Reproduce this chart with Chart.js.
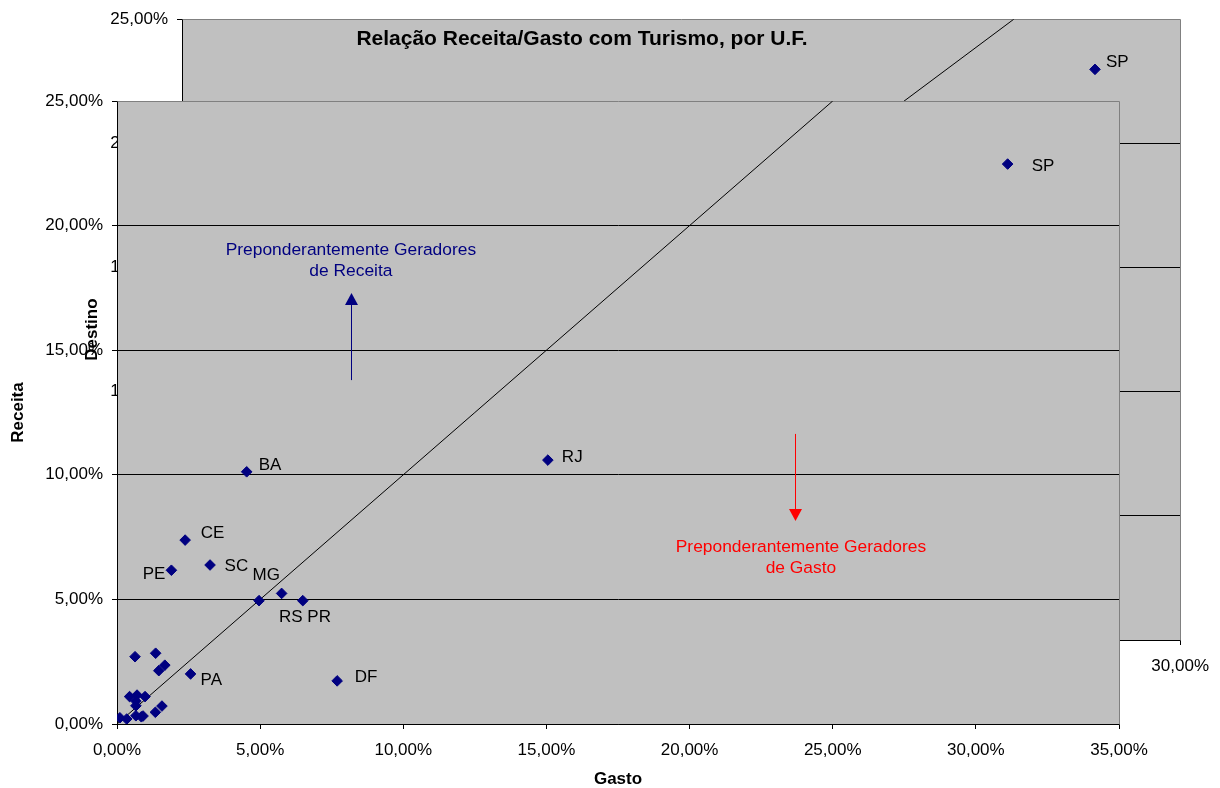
<!DOCTYPE html>
<html><head><meta charset="utf-8">
<script src="https://cdn.jsdelivr.net/npm/chart.js@4"></script>
<style>
html,body{margin:0;padding:0;background:#fff;}
#wrap{position:relative;width:1220px;height:788px;overflow:hidden;}
canvas{position:absolute;left:0;top:0;}
</style></head><body>
<div id="wrap">
<canvas id="back" width="1220" height="788"></canvas>
<canvas id="front" width="1220" height="788"></canvas>
</div>
<script>
// ---- data (front chart) ----
const ufNames = ['SP','RJ','BA','CE','SC','PE','MG','RS','PR','PA','DF',
  '','','','','','','','','','','','','','','',''];
const gasto = [31.11,15.05,4.53,2.38,3.25,1.90,5.75,4.96,6.49,2.57,7.69,
  0.10,0.34,0.63,1.35,1.67,1.46,0.44,0.70,0.98,0.66,1.57,1.34,0.66,0.85,0.66,0.91];
const receita = [22.47,10.59,10.12,7.38,6.38,6.17,5.24,4.95,4.95,2.01,1.73,
  0.25,0.20,2.70,2.84,2.36,2.14,1.10,1.16,1.10,0.73,0.72,0.47,0.33,0.29,0.92,0.32];
// ---- data (back chart, only visible part) ----
const backNames = ['SP'];
const backGasto = [27.44];
const backReceita = [22.98];
// reference line Receita = Gasto
const refLineX = [0, 25];
const refLineY = [0, 25];
// ticks
const xTicksFront = [0,5,10,15,20,25,30,35];
const xTicksBack = [0,5,10,15,20,25,30];
const yTicks = [0,5,10,15,20,25];
const fmt = v => v.toFixed(2).replace('.', ',') + '%';

const FONT = "'Liberation Sans', Arial, sans-serif";
const NAVY = '#000080';
Chart.defaults.font.family = FONT;
Chart.defaults.color = '#000';

const plotFrame = {
  id: 'plotFrame',
  beforeDraw(chart) {
    const a = chart.chartArea, c = chart.ctx;
    c.save(); c.fillStyle = '#c0c0c0';
    c.fillRect(a.left, a.top, a.right - a.left, a.bottom - a.top);
    c.restore();
  },
  beforeDatasetsDraw(chart) {
    const a = chart.chartArea, c = chart.ctx;
    c.save(); c.strokeStyle = '#808080'; c.lineWidth = 1;
    c.beginPath();
    c.moveTo(Math.round(a.left) + 0.5, Math.round(a.top) + 0.5);
    c.lineTo(Math.round(a.right) + 0.5, Math.round(a.top) + 0.5);
    c.lineTo(Math.round(a.right) + 0.5, Math.round(a.bottom) + 0.5);
    c.stroke(); c.restore();
  }
};

const pointLabels = {
  id: 'pointLabels',
  afterDatasetsDraw(chart, args, opts) {
    const c = chart.ctx;
    const meta = chart.getDatasetMeta(0);
    c.save();
    c.font = '17px ' + FONT; c.fillStyle = '#000'; c.textBaseline = 'middle';
    meta.data.forEach((pt, i) => {
      const name = opts.names[i];
      if (!name) return;
      const o = opts.offsets[name] || [10, 0, 'left'];
      c.textAlign = o[2];
      c.fillText(name, pt.x + o[0], pt.y + o[1]);
    });
    c.restore();
  }
};

const notes = {
  id: 'notes',
  afterDatasetsDraw(chart, args, opts) {
    const c = chart.ctx, xs = chart.scales.x, ys = chart.scales.y;
    c.save();
    (opts.texts || []).forEach(t => {
      c.font = '17.4px ' + FONT; c.fillStyle = t.color;
      c.textAlign = 'center'; c.textBaseline = 'middle';
      c.fillText(t.text, xs.getPixelForValue(t.x), ys.getPixelForValue(t.y));
    });
    (opts.arrows || []).forEach(a => {
      const x = Math.round(xs.getPixelForValue(a.x)) + 0.5;
      const y1 = ys.getPixelForValue(a.from), y2 = ys.getPixelForValue(a.to);
      const dir = y2 < y1 ? 1 : -1;
      c.strokeStyle = a.color; c.fillStyle = a.color; c.lineWidth = 1;
      c.beginPath(); c.moveTo(x, y1); c.lineTo(x, y2 + dir * 10); c.stroke();
      c.beginPath();
      c.moveTo(x, y2); c.lineTo(x - 6.5, y2 + dir * 12); c.lineTo(x + 6.5, y2 + dir * 12);
      c.closePath(); c.fill();
    });
    (opts.title ? [opts.title] : []).forEach(t => {
      c.font = 'bold 21px ' + FONT; c.fillStyle = '#000';
      c.textAlign = 'center'; c.textBaseline = 'middle';
      c.fillText(t.text, t.px, t.py);
    });
    c.restore();
  }
};

function gridColor(max) {
  return ctx => (ctx.tick && ctx.tick.value === max) ? 'rgba(0,0,0,0)' : '#000';
}

// ---------------- BACK CHART ----------------
new Chart(document.getElementById('back'), {
  type: 'scatter',
  data: {
    datasets: [
      { data: backGasto.map((g, i) => ({x: g, y: backReceita[i]})),
        pointStyle: 'rectRot', pointRadius: 5.3, pointHoverRadius: 5.3,
        backgroundColor: NAVY, borderColor: NAVY, borderWidth: 1 },
      { data: refLineX.map((v, i) => ({x: v, y: refLineY[i]})),
        showLine: true, pointRadius: 0, borderColor: '#000', borderWidth: 1 }
    ]
  },
  options: {
    responsive: false, animation: false, devicePixelRatio: 1,
    layout: { padding: { left: 0, top: 17, right: 38, bottom: 0 } },
    plugins: {
      legend: { display: false }, tooltip: { enabled: false },
      pointLabels: { names: backNames, offsets: { SP: [11, -7, 'left'] } },
      notes: { title: { text: 'Relação Receita/Gasto com Turismo, por U.F.', px: 582, py: 39 } }
    },
    scales: {
      x: {
        type: 'linear', min: 0, max: 30,
        afterBuildTicks: s => { s.ticks = xTicksBack.map(v => ({value: v})); },
        afterFit: s => { s.height = 148; },
        ticks: { callback: v => fmt(v), font: { size: 17 }, padding: 11, maxRotation: 0 },
        grid: { drawOnChartArea: false, tickLength: 5, tickColor: '#000' },
        border: { color: '#000', width: 1 }
      },
      y: {
        type: 'linear', min: 0, max: 25,
        afterBuildTicks: s => { s.ticks = yTicks.map(v => ({value: v})); },
        afterFit: s => { s.width = 182; },
        ticks: { callback: v => fmt(v), font: { size: 17 }, padding: 9 },
        grid: { color: gridColor(25), tickColor: '#000', tickLength: 5 },
        border: { color: '#000', width: 1 },
        title: { display: true, text: 'Destino', font: { size: 17, weight: 'bold', lineHeight: 1 },
                 padding: { top: 83.5, bottom: 0 } }
      }
    }
  },
  plugins: [plotFrame, pointLabels, notes]
});

// ---------------- FRONT CHART ----------------
new Chart(document.getElementById('front'), {
  type: 'scatter',
  data: {
    datasets: [
      { data: gasto.map((g, i) => ({x: g, y: receita[i]})),
        pointStyle: 'rectRot', pointRadius: 5.3, pointHoverRadius: 5.3,
        backgroundColor: NAVY, borderColor: NAVY, borderWidth: 1 },
      { data: refLineX.map((v, i) => ({x: v, y: refLineY[i]})),
        showLine: true, pointRadius: 0, borderColor: '#000', borderWidth: 1 }
    ]
  },
  options: {
    responsive: false, animation: false, devicePixelRatio: 1,
    layout: { padding: { left: 0, top: 101, right: 101, bottom: 0 } },
    plugins: {
      legend: { display: false }, tooltip: { enabled: false },
      pointLabels: {
        names: ufNames,
        offsets: {
          SP: [24, 2, 'left'], RJ: [14, -3, 'left'], BA: [12, -6.5, 'left'],
          CE: [15.5, -6.5, 'left'], SC: [14.5, 1.5, 'left'], PE: [-6, 4.5, 'right'],
          MG: [-29, -18, 'left'], RS: [20, 16.5, 'left'], PR: [4.5, 16.5, 'left'],
          PA: [10, 6, 'left'], DF: [17.5, -3.5, 'left']
        }
      },
      notes: {
        texts: [
          { text: 'Preponderantemente Geradores', x: 8.17, y: 19.02, color: NAVY },
          { text: 'de Receita', x: 8.17, y: 18.18, color: NAVY },
          { text: 'Preponderantemente Geradores', x: 23.89, y: 7.10, color: '#ff0000' },
          { text: 'de Gasto', x: 23.89, y: 6.26, color: '#ff0000' }
        ],
        arrows: [
          { x: 8.17, from: 13.80, to: 17.30, color: NAVY },
          { x: 23.68, from: 11.64, to: 8.15, color: '#ff0000' }
        ]
      }
    },
    scales: {
      x: {
        type: 'linear', min: 0, max: 35,
        afterBuildTicks: s => { s.ticks = xTicksFront.map(v => ({value: v})); },
        afterFit: s => { s.height = 64; },
        ticks: { callback: v => fmt(v), font: { size: 17 }, padding: 11, maxRotation: 0 },
        grid: { drawOnChartArea: false, tickLength: 5, tickColor: '#000' },
        border: { color: '#000', width: 1 },
        title: { display: true, text: 'Gasto', font: { size: 17, weight: 'bold', lineHeight: 1 },
                 padding: { top: 0, bottom: 0.5 } }
      },
      y: {
        type: 'linear', min: 0, max: 25,
        afterBuildTicks: s => { s.ticks = yTicks.map(v => ({value: v})); },
        afterFit: s => { s.width = 117; },
        ticks: { callback: v => fmt(v), font: { size: 17 }, padding: 9 },
        grid: { color: gridColor(25), tickColor: '#000', tickLength: 5 },
        border: { color: '#000', width: 1 },
        title: { display: true, text: 'Receita', font: { size: 17, weight: 'bold', lineHeight: 1 },
                 padding: { top: 9.5, bottom: 0 } }
      }
    }
  },
  plugins: [plotFrame, pointLabels, notes]
});
</script>
</body></html>
